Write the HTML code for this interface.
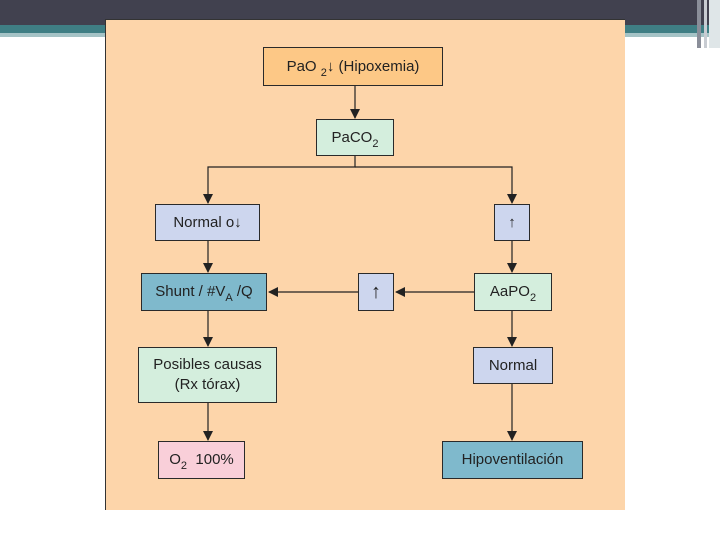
<!DOCTYPE html>
<html><head><meta charset="utf-8"><style>
body{margin:0;width:720px;height:540px;background:#fff;position:relative;overflow:hidden;font-family:"Liberation Sans",sans-serif}
.a{position:absolute}
.b{position:absolute;border:1.3px solid #2a2a2a;box-sizing:border-box;display:flex;align-items:center;justify-content:center;font-size:15px;color:#222;text-align:center;line-height:20px}
.b sub{font-size:11px;vertical-align:-5px;line-height:0}
.or{background:#fdc886}.gr{background:#d4eedd}.lv{background:#cdd6ee}.tl{background:#7fb9cc}.pk{background:#f9cfd9}
</style></head><body>
<div class="a" style="left:0;top:0;width:720px;height:25px;background:#41414f"></div>
<div class="a" style="left:0;top:25px;width:720px;height:8px;background:#3f7e84"></div>
<div class="a" style="left:0;top:33px;width:720px;height:4px;background:#a5c3c6"></div>
<div class="a" style="left:625px;top:37px;width:42px;height:4px;background:#fff"></div>
<div class="a" style="left:697px;top:0;width:4px;height:48px;background:#8a8e99"></div>
<div class="a" style="left:704px;top:0;width:3px;height:48px;background:#c8ccd2"></div>
<div class="a" style="left:709px;top:0;width:11px;height:48px;background:#dfe6e8"></div>
<div class="a" style="left:105px;top:19px;width:520px;height:491px;background:#fdd5aa;border-top:1px solid #333;border-left:1px solid #333;box-sizing:border-box"></div>
<svg class="a" style="left:0;top:0" width="720" height="540">
<defs><marker id="m" markerWidth="10" markerHeight="10" refX="9" refY="5" orient="auto" markerUnits="userSpaceOnUse"><path d="M0,0L10,5L0,10z" fill="#222"/></marker></defs>
<g stroke="#222" stroke-width="1.2" fill="none">
<line x1="355" y1="86" x2="355" y2="118" marker-end="url(#m)"/>
<polyline points="355,156 355,167 208,167 208,203" marker-end="url(#m)"/>
<polyline points="355,167 512,167 512,203" marker-end="url(#m)"/>
<line x1="208" y1="241" x2="208" y2="272" marker-end="url(#m)"/>
<line x1="512" y1="241" x2="512" y2="272" marker-end="url(#m)"/>
<line x1="474" y1="292" x2="396" y2="292" marker-end="url(#m)"/>
<line x1="358" y1="292" x2="269" y2="292" marker-end="url(#m)"/>
<line x1="208" y1="311" x2="208" y2="346" marker-end="url(#m)"/>
<line x1="512" y1="311" x2="512" y2="346" marker-end="url(#m)"/>
<line x1="208" y1="403" x2="208" y2="440" marker-end="url(#m)"/>
<line x1="512" y1="384" x2="512" y2="440" marker-end="url(#m)"/>
</g></svg>
<div class="b or" style="left:263px;top:47px;width:180px;height:39px"><span>PaO <sub>2</sub>↓ (Hipoxemia)</span></div>
<div class="b gr" style="left:316px;top:119px;width:78px;height:37px"><span>PaCO<sub>2</sub></span></div>
<div class="b lv" style="left:155px;top:204px;width:105px;height:37px"><span>Normal o↓</span></div>
<div class="b lv" style="left:494px;top:204px;width:36px;height:37px"><span>↑</span></div>
<div class="b tl" style="left:141px;top:273px;width:126px;height:38px"><span>Shunt / #V<sub>A</sub> /Q</span></div>
<div class="b lv" style="left:358px;top:273px;width:36px;height:38px;font-size:20px"><span>↑</span></div>
<div class="b gr" style="left:474px;top:273px;width:78px;height:38px"><span>AaPO<sub>2</sub></span></div>
<div class="b gr" style="left:138px;top:347px;width:139px;height:56px"><span>Posibles causas<br>(Rx tórax)</span></div>
<div class="b lv" style="left:473px;top:347px;width:80px;height:37px"><span>Normal</span></div>
<div class="b pk" style="left:158px;top:441px;width:87px;height:38px"><span>O<sub>2</sub>&nbsp; 100%</span></div>
<div class="b tl" style="left:442px;top:441px;width:141px;height:38px"><span>Hipoventilación</span></div>
</body></html>
